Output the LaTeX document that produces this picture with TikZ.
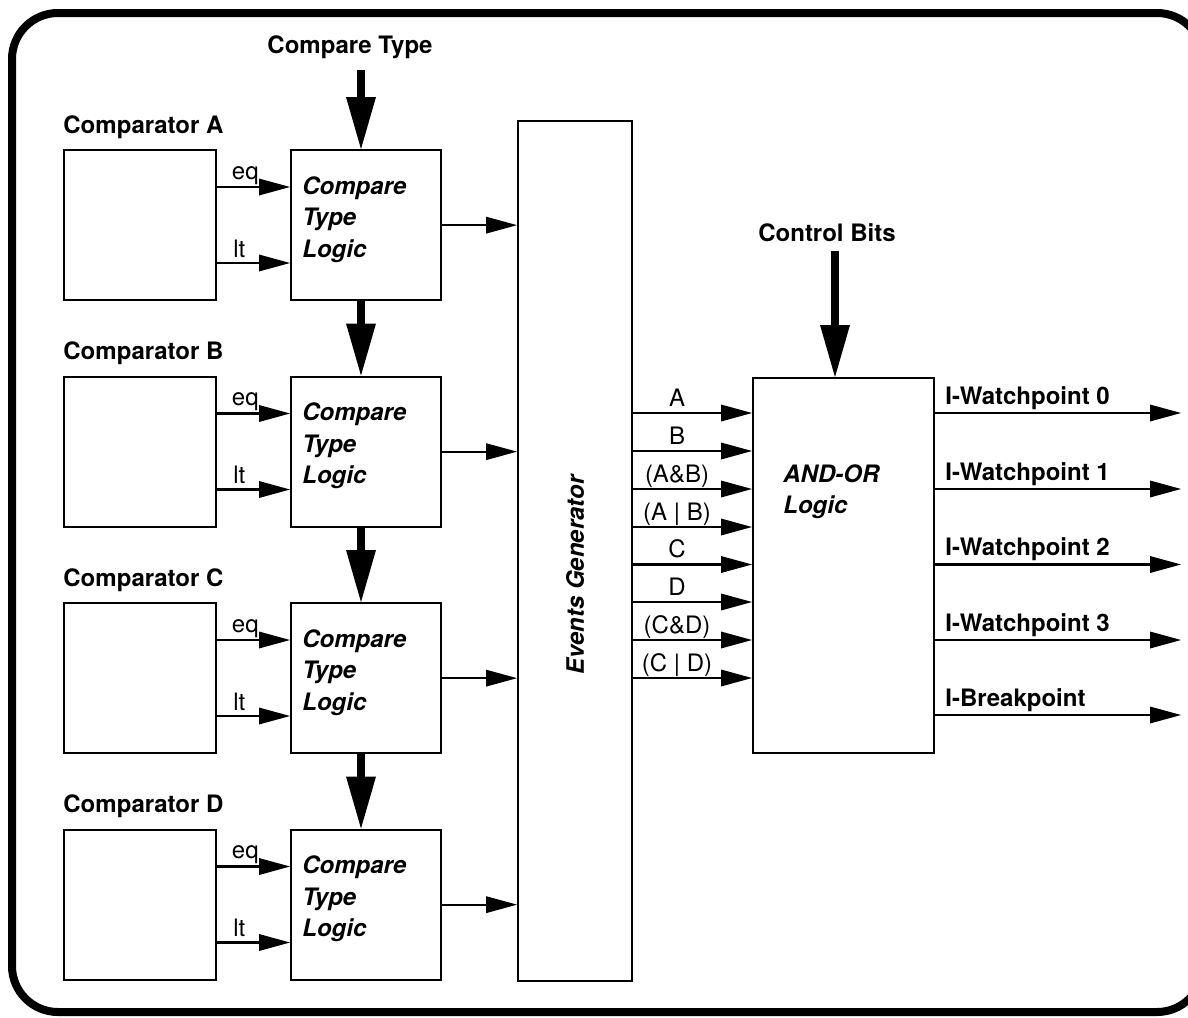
\documentclass[tikz,border=0pt]{standalone}
\usepackage{fontspec}
\setmainfont{TeX Gyre Heros}
\usetikzlibrary{arrows.meta}
\begin{document}
\begin{tikzpicture}[x=0.5pt,y=-0.5pt,
  box/.style={draw, line width=1.15pt, inner sep=0pt, anchor=north west},
  thinarr/.style={line width=1.15pt, -{Triangle[length=15.5pt,width=8.5pt,line width=0pt]}},
  thickarr/.style={line width=4pt, -{Triangle[length=26pt,width=15pt,line width=0pt]}},
  lbl/.style={font=\fontsize{12}{14}\selectfont, inner sep=0pt},
  blbl/.style={font=\fontsize{12}{14}\selectfont\bfseries, inner sep=0pt},
  bilbl/.style={font=\fontsize{12}{14}\selectfont\bfseries\itshape, inner sep=0pt},
]
\useasboundingbox (0,0) rectangle (1188,1017);
% outer frame
\draw[line width=4pt, rounded corners=23pt] (12,13) rectangle (1203,1012);

% compare type input
\node[blbl, anchor=base] (ctlabel) at (350,53) {Compare Type};
\coordinate (cts) at (361,70);

% events generator
\node[box, minimum width=57pt, minimum height=430pt] (ev) at (517,120) {};
\node[bilbl, rotate=90] (evtext) at (575,575) {Events Generator};

% rows
\foreach \n [count=\i from 0] in {A,B,C,D}{
  \pgfmathsetmacro{\T}{149+226.5*\i}
  \node[blbl, anchor=base west] (lab\n) at (63,\T-16) {Comparator \n};
  \node[box, minimum width=76pt, minimum height=75pt] (cmp\n) at (63,\T) {};
  \node[box, minimum width=75pt, minimum height=75pt] (ctl\n) at (290,\T) {};
  \draw[thinarr] ([yshift=-19pt]cmp\n.north east) -- ([yshift=-19pt]ctl\n.north west);
  \draw[thinarr] ([yshift=-57pt]cmp\n.north east) -- ([yshift=-57pt]ctl\n.north west);
  \node[lbl, anchor=base] (eq\n) at ([xshift=14pt,yshift=-15pt]cmp\n.north east) {eq};
  \node[lbl, anchor=base] (lt\n) at ([xshift=11pt,yshift=-54pt]cmp\n.north east) {lt};
  \node[bilbl, anchor=base west] (c1\n) at ([xshift=6pt,yshift=-22.5pt]ctl\n.north west) {Compare};
  \node[bilbl, anchor=base west] (c2\n) at ([xshift=6pt,yshift=-38.25pt]ctl\n.north west) {Type};
  \node[bilbl, anchor=base west] (c3\n) at ([xshift=6pt,yshift=-54pt]ctl\n.north west) {Logic};
  \draw[thinarr] (ctl\n.east) -- (ctl\n.east -| ev.west);
}
\draw[thickarr] (cts) -- (cts |- ctlA.north);
\draw[thickarr] (cts |- ctlA.south) -- (cts |- ctlB.north);
\draw[thickarr] (cts |- ctlB.south) -- (cts |- ctlC.north);
\draw[thickarr] (cts |- ctlC.south) -- (cts |- ctlD.north);

% AND-OR logic
\node[box, minimum width=90.5pt, minimum height=187.5pt] (ao) at (752,377) {};
\node[bilbl, anchor=base west] (ao1) at (783,482) {AND-OR};
\node[bilbl, anchor=base west] (ao2) at (783,513) {Logic};
\node[blbl, anchor=base] (cblabel) at (827,241) {Control Bits};
\coordinate (cbs) at (835,251);
\draw[thickarr] (cbs) -- (cbs |- ao.north);

% event lines
\foreach \y/\t [count=\k] in {413/A, 451/B, 489/(A\&B), 527/(A | B), 564.5/C, 602/D, 640/(C\&D), 678/(C | D)}{
  \draw[thinarr] (ev.east |- 0,\y) -- (ao.west |- 0,\y);
  \node[lbl, anchor=base] (ev\k) at (677,\y-7) {\t};
}

% outputs
\foreach \y/\t [count=\k] in {413/I-Watchpoint 0, 489/I-Watchpoint 1, 564.5/I-Watchpoint 2, 640/I-Watchpoint 3, 715/I-Breakpoint}{
  \coordinate (out\k) at (1181,\y);
  \draw[thinarr] (ao.east |- out\k) -- (out\k);
  \node[blbl, anchor=base west] (outl\k) at (945,\y-9) {\t};
}
\end{tikzpicture}
\end{document}
